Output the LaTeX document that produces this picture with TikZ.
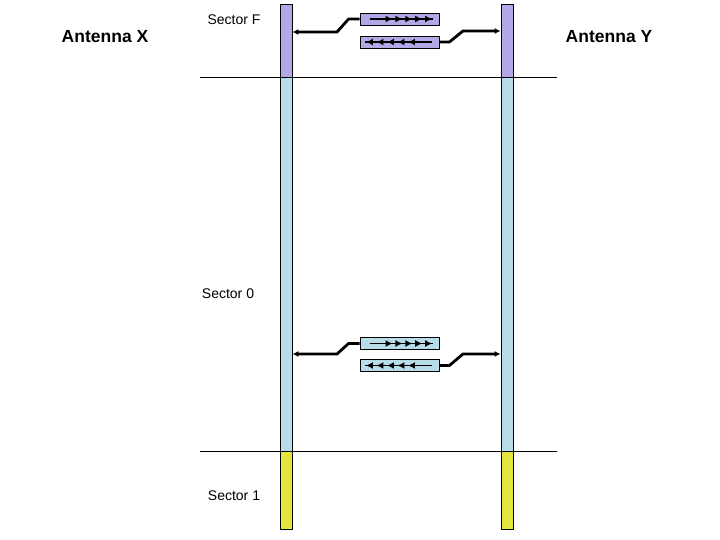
\documentclass[tikz,border=0pt]{standalone}
\usepackage{fontspec}
\setmainfont{Liberation Sans}
\usetikzlibrary{arrows.meta,decorations.markings}
\definecolor{secf}{RGB}{180,167,229}
\definecolor{seczero}{RGB}{183,221,232}
\definecolor{secone}{RGB}{228,230,60}
\tikzset{
  bar/.style={draw=black, line width=0.8pt, minimum width=12pt, inner sep=0pt},
  pkt/.style={draw=black, line width=0.8pt, minimum width=79pt, minimum height=12pt, inner sep=0pt},
  link/.style={line width=2.8pt, -{Latex[length=6pt,width=6pt]}},
  train/.style={line width=1.8pt, postaction={decorate},
    decoration={markings, mark=between positions 0.36 and 1 step 0.155 with {\arrow{Latex[length=7pt,width=7pt]}}}},
  lbl/.style={font=\fontsize{14pt}{16pt}\selectfont},
  ant/.style={font=\fontsize{17.5pt}{20pt}\selectfont\bfseries}
}
\begin{document}
\begin{tikzpicture}[x=1pt,y=-1pt]
      \useasboundingbox (0,0) rectangle (720,540);
      \node[ant] (ax) at (105,37){Antenna X};
      \node[ant] (ay) at (609,37){Antenna Y};
      \node[lbl] (lf) at (234,20){Sector F};
      \node[lbl] (l0) at (228,294){Sector 0};
      \node[lbl] (l1) at (234,496){Sector 1};

      \draw[line width=0.8pt] (200,77) -- (557,77);
      \draw[line width=0.8pt] (200,451) -- (557,451);

      % antenna X bar
      \node[bar, fill=secf, minimum height=73pt] (fx) at (286,40.5){};
      \node[bar, fill=seczero, minimum height=374pt] (zx) at (286,264){};
      \node[bar, fill=secone, minimum height=78pt] (ox) at (286,490){};
      % antenna Y bar
      \node[bar, fill=secf, minimum height=73pt] (fy) at (507,40.5){};
      \node[bar, fill=seczero, minimum height=374pt] (zy) at (507,264){};
      \node[bar, fill=secone, minimum height=78pt] (oy) at (507,490){};

      % sector F packets
      \node[pkt, fill=secf] (pf1) at (399.5,19){};
      \node[pkt, fill=secf] (pf2) at (399.5,42){};
      \draw[train] ([xshift=10pt]pf1.west) -- ([xshift=-6pt]pf1.east);
      \draw[train] ([xshift=-7pt]pf2.east) -- ([xshift=5pt]pf2.west);
      \coordinate (fxe) at (fx.east |- 0,32);
      \coordinate (fyw) at (fy.west |- 0,31);
      \draw[link] (pf1.west) -- ++(-11,0) -- (337,32) -- (fxe);
      \draw[link] (pf2.east) -- ++(10,0) -- (463,31) -- (fyw);

      % sector 0 packets
      \node[pkt, fill=seczero] (pz1) at (399.5,343.5){};
      \node[pkt, fill=seczero] (pz2) at (399.5,365.5){};
      \draw[train] ([xshift=10pt]pz1.west) -- ([xshift=-6pt]pz1.east);
      \draw[train] ([xshift=-7pt]pz2.east) -- ([xshift=5pt]pz2.west);
      \coordinate (zxe) at (zx.east |- 0,354);
      \coordinate (zyw) at (zy.west |- 0,354);
      \draw[link] (pz1.west) -- ++(-11,0) -- (337,354) -- (zxe);
      \draw[link] (pz2.east) -- ++(10,0) -- (463,354) -- (zyw);
    \end{tikzpicture}
\end{document}
